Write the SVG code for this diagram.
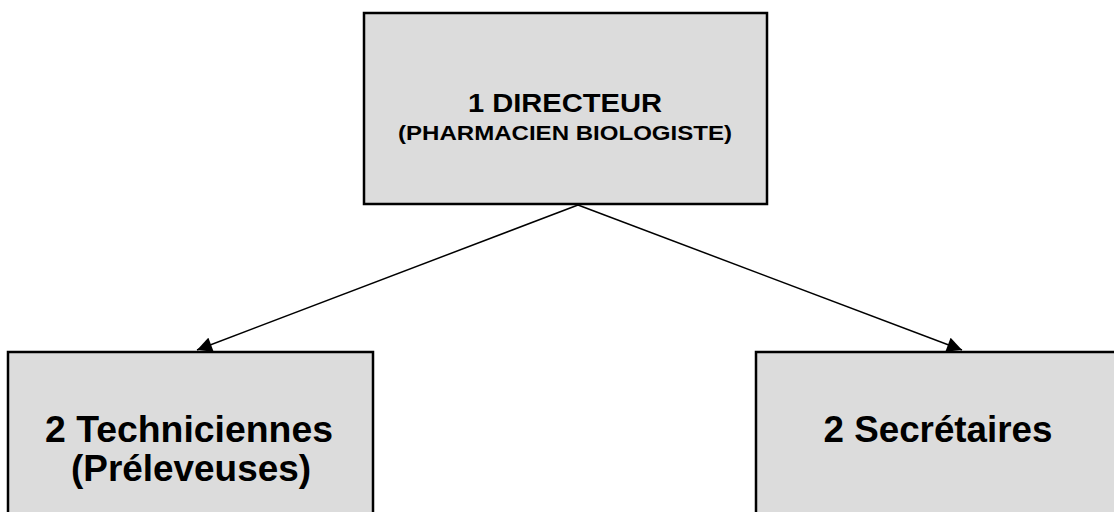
<svg xmlns="http://www.w3.org/2000/svg" width="1114" height="512" viewBox="0 0 1114 512">
<defs>
<style>
.box{fill:#dcdcdc;stroke:#000;stroke-width:2.5}
.t{font-family:"Liberation Sans",Arial,sans-serif;font-weight:bold;fill:#000;text-anchor:middle}
.c{stroke:#000;stroke-width:1.5;fill:none}
</style>
<marker id="ah" viewBox="0 0 10 10" refX="10" refY="5" markerWidth="17" markerHeight="15" markerUnits="userSpaceOnUse" orient="auto">
<path d="M0,0 L10,5 L0,10 z" fill="#000"/>
</marker>
</defs>
<g id="connectors">
<line class="c" x1="578" y1="205" x2="197" y2="350" marker-end="url(#ah)"/>
<line class="c" x1="578" y1="205" x2="962" y2="350" marker-end="url(#ah)"/>
</g>
<g id="directeur">
<rect class="box" x="364" y="13" width="403" height="191"/>
<text class="t" x="565" y="112" font-size="25" textLength="194" lengthAdjust="spacingAndGlyphs">1 DIRECTEUR</text>
<text class="t" x="565" y="140" font-size="20.5" textLength="334" lengthAdjust="spacingAndGlyphs">(PHARMACIEN BIOLOGISTE)</text>
</g>
<g id="techniciennes">
<rect class="box" x="8" y="352" width="365" height="170"/>
<text class="t" x="189" y="442" font-size="36" textLength="288" lengthAdjust="spacingAndGlyphs">2 Techniciennes</text>
<text class="t" x="191" y="481" font-size="36" textLength="240" lengthAdjust="spacingAndGlyphs">(Préleveuses)</text>
</g>
<g id="secretaires">
<rect class="box" x="756" y="352" width="370" height="170"/>
<text class="t" x="938" y="442" font-size="36" textLength="229" lengthAdjust="spacingAndGlyphs">2 Secrétaires</text>
</g>
</svg>
